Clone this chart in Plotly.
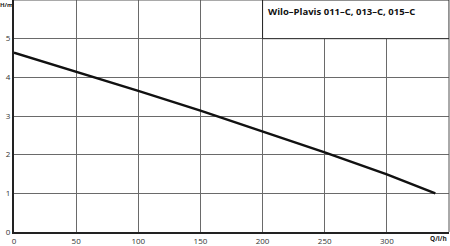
import plotly.graph_objects as go

q_values = [0, 50, 100, 150, 200, 250, 300, 339]
h_values = [4.64, 4.15, 3.65, 3.14, 2.61, 2.06, 1.49, 1.0]
x_ticks = [0, 50, 100, 150, 200, 250, 300]
y_ticks = [0, 1, 2, 3, 4, 5]
title_text = "Wilo–Plavis 011–C, 013–C, 015–C"
x_label = "Q/l/h"
y_label = "H/m"

fig = go.Figure()
fig.add_trace(go.Scatter(x=q_values, y=h_values, mode="lines",
                         line=dict(color="#111111", width=2.5), hoverinfo="skip"))

fig.update_layout(
    width=450, height=246,
    margin=dict(l=14, r=1, t=0, b=9),
    paper_bgcolor="white", plot_bgcolor="white",
    showlegend=False,
    font=dict(family="Open Sans", size=8, color="#333333"),
)
axis_common = dict(showgrid=True, gridcolor="#6a6a6a", gridwidth=1.2,
                   showline=True, linecolor="#222222", linewidth=2,
                   zeroline=False, ticks="", tickfont=dict(size=8, color="#333333"))
fig.update_xaxes(range=[0, 350], tickmode="array", tickvals=x_ticks, **axis_common)
fig.update_yaxes(range=[0, 6], tickmode="array", tickvals=y_ticks, **axis_common)

# top and right border
fig.add_shape(type="line", xref="paper", yref="paper", x0=0, x1=1, y0=1, y1=1,
              line=dict(color="#555555", width=1))
fig.add_shape(type="line", xref="paper", yref="paper", x0=1, x1=1, y0=0, y1=1,
              line=dict(color="#555555", width=1))
# title box
fig.add_shape(type="rect", xref="x", yref="y", x0=200, x1=350, y0=5, y1=6,
              fillcolor="white", line=dict(color="#222222", width=1), layer="above")
fig.add_annotation(x=200, y=6, xref="x", yref="y", text="<b>" + title_text + "</b>",
                   showarrow=False, xanchor="left", yanchor="top", xshift=3, yshift=-3,
                   font=dict(family="Open Sans", size=9.5, color="#111111"))
fig.add_annotation(x=0, y=1, xref="paper", yref="paper", text="<b>" + y_label + "</b>",
                   showarrow=False, xanchor="right", yanchor="top", xshift=1, yshift=1,
                   font=dict(family="Open Sans", size=6, color="#222222"))
fig.add_annotation(x=1, y=0, xref="paper", yref="paper", text="<b>" + x_label + "</b>",
                   showarrow=False, xanchor="right", yanchor="top", xshift=0, yshift=0,
                   font=dict(family="Open Sans", size=6.5, color="#222222"))

fig.write_html("out.html")
